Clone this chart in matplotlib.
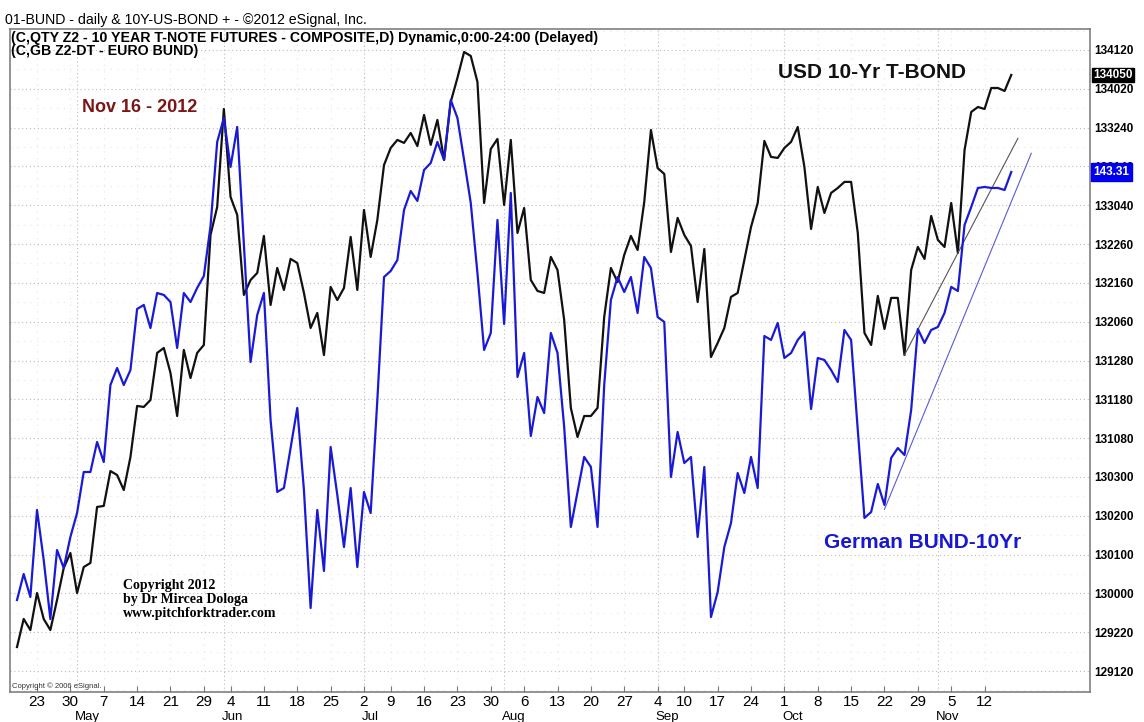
import matplotlib
matplotlib.use('Agg')
import matplotlib.pyplot as plt
import numpy as np
import pandas as pd

plt.rcParams['font.family'] = ['Liberation Sans', 'DejaVu Sans']

# trading days, US holidays left out
holidays = ['2012-05-28', '2012-07-04', '2012-09-03']
dates = pd.bdate_range('2012-04-18', '2012-11-16')
dates = dates[~dates.isin(pd.to_datetime(holidays))]

# 10 year T-note futures (decimal price)
tnote = [129.568, 129.794, 129.705, 130.003, 129.794, 129.705, 129.947, 130.204, 130.325, 130.003,
         130.212, 130.245, 130.696, 130.704, 130.985, 130.953, 130.832, 131.098, 131.509, 131.501,
         131.557, 131.936, 131.976, 131.775, 131.428, 131.960, 131.734, 131.936, 132.000, 132.886,
         133.111, 133.900, 133.192, 133.047, 132.403, 132.523, 132.580, 132.878, 132.322, 132.620,
         132.443, 132.693, 132.660, 132.419, 132.137, 132.258, 131.919, 132.467, 132.362, 132.459,
         132.870, 132.443, 133.087, 132.709, 133.007, 133.449, 133.586, 133.651, 133.627, 133.707,
         133.602, 133.852, 133.611, 133.812, 133.490, 133.957, 134.150, 134.359, 134.327, 134.118,
         133.143, 133.578, 133.659, 133.127, 133.651, 132.902, 133.103, 132.523, 132.435, 132.419,
         132.709, 132.604, 132.201, 131.493, 131.259, 131.428, 131.428, 131.493, 132.226, 132.620,
         132.507, 132.725, 132.878, 132.765, 133.152, 133.731, 133.425, 133.377, 132.749, 133.023,
         132.886, 132.797, 132.346, 132.773, 131.903, 132.016, 132.137, 132.387, 132.419, 132.685,
         132.950, 133.143, 133.643, 133.514, 133.506, 133.586, 133.635, 133.755, 133.433, 132.934,
         133.272, 133.063, 133.224, 133.264, 133.313, 133.313, 132.902, 132.097, 132.000, 132.395,
         132.129, 132.379, 132.379, 131.919, 132.604, 132.789, 132.693, 133.039, 132.846, 132.789,
         133.143, 132.741, 133.570, 133.876, 133.916, 133.900, 134.069, 134.069, 134.045, 134.174]

# Euro Bund futures
bund = [137.796, 138.131, 137.835, 138.956, 138.312, 137.551, 138.440, 138.209, 138.608, 138.917,
        139.445, 139.445, 139.832, 139.574, 140.566, 140.785, 140.566, 140.759, 141.545, 141.597,
        141.300, 141.751, 141.726, 141.635, 141.043, 141.751, 141.635, 141.816, 141.970, 142.614,
        143.697, 144.006, 143.375, 143.890, 142.370, 140.862, 141.468, 141.751, 140.115, 139.188,
        139.239, 139.754, 140.270, 139.213, 137.693, 138.956, 138.170, 139.767, 139.149, 138.479,
        139.239, 138.221, 139.188, 138.917, 140.373, 141.957, 142.035, 142.176, 142.821, 143.065,
        142.937, 143.336, 143.426, 143.697, 143.465, 144.238, 144.006, 143.465, 142.911, 142.009,
        141.017, 141.236, 142.692, 141.352, 143.040, 140.669, 140.978, 139.909, 140.411, 140.205,
        141.236, 140.978, 140.025, 138.737, 139.188, 139.639, 139.510, 138.737, 140.566, 141.661,
        141.957, 141.764, 141.957, 141.494, 142.215, 142.073, 141.442, 141.378, 139.381, 139.961,
        139.561, 139.639, 138.608, 139.510, 137.577, 137.899, 138.479, 138.788, 139.432, 139.175,
        139.639, 139.239, 141.197, 141.146, 141.365, 140.914, 140.978, 141.146, 141.249, 140.257,
        140.914, 140.888, 140.759, 140.605, 141.275, 141.146, 139.986, 138.853, 138.930, 139.291,
        139.020, 139.626, 139.754, 139.664, 140.244, 141.288, 141.107, 141.275, 141.313, 141.494,
        141.829, 141.777, 142.627, 142.859, 143.104, 143.117, 143.104, 143.104, 143.078, 143.310]

# trend lines drawn on the chart (bar index, price)
tnote_trend_x = [133, 150.0]
tnote_trend_y = [131.919, 133.664]
bund_trend_x = [130, 152.0]
bund_trend_y = [138.965, 143.551]

# right axis, prices in 32nds
ytick_vals = [129.375, 129.6875, 130.0, 130.3125, 130.625, 130.9375, 131.25, 131.5625, 131.875,
              132.1875, 132.5, 132.8125, 133.125, 133.4375, 133.75, 134.0625, 134.375]
ytick_labels = ['129120', '129220', '130000', '130100', '130200', '130300', '131080', '131180',
                '131280', '132060', '132160', '132260', '133040', '133140', '133240', '134020', '134120']
last_tnote_label = '134050'
last_bund_label = '143.31'

x = np.arange(len(dates))
wk = dates.isocalendar().week.values
week_starts = [i for i in range(1, len(dates)) if wk[i] != wk[i - 1]]
month_starts = [i for i in range(1, len(dates)) if dates[i].month != dates[i - 1].month]

fig = plt.figure(figsize=(11.44, 7.22), dpi=100)
ax = fig.add_axes([10 / 1144, 1 - 692 / 722, 1080 / 1144, 663 / 722])
ax2 = ax.twinx()

grid_col = '#bdbdbd'
for m in month_starts:
    ax.axvline(m, color=grid_col, linestyle=(0, (1, 2.5)), linewidth=0.8, zorder=0)
for w in week_starts:
    ax.axvline(w, color='#e4e4e4', linestyle=(0, (1, 5)), linewidth=0.8, zorder=0)
for v in ytick_vals:
    ax.axhline(v, color=grid_col, linestyle=(0, (1, 2.5)), linewidth=0.8, zorder=0)
for v in ytick_vals:
    ax.axhline(v + 0.15625, color='#e6e6e6', linestyle=(0, (1, 5)), linewidth=0.8, zorder=0)
ax.axhline(ytick_vals[0] - 0.15625, color='#e6e6e6', linestyle=(0, (1, 5)), linewidth=0.8, zorder=0)

ax.plot(x, tnote, color='#111111', linewidth=1.6, zorder=3)
ax.plot(tnote_trend_x, tnote_trend_y, color='#555555', linewidth=0.8, zorder=3)

ax.set_xlim(-1.05, 160.8)
ax.set_ylim(129.206, 134.544)

# twinx moved the ticks to the left, put them back on the right
ax.yaxis.tick_right()
ax.set_yticks(ytick_vals)
ax.set_yticklabels(ytick_labels, fontsize=8.5, fontweight='bold')
ax.tick_params(axis='y', which='both', length=0, pad=3, left=False, right=True,
               labelleft=False, labelright=True)

ax.set_xticks(week_starts)
ax.set_xticklabels([str(dates[i].day) for i in week_starts], fontsize=11)
ax.tick_params(axis='x', direction='in', length=4, pad=2, color='#777777')
for m in month_starts:
    ax.text(m - 0.3, -(711 - 692) / 663, dates[m].strftime('%b'), transform=ax.get_xaxis_transform(),
            ha='left', va='top', fontsize=9.5, clip_on=False)

for s in ax.spines.values():
    s.set_color('#808080')
    s.set_linewidth(1.2)

ax.annotate(last_tnote_label, xy=(1.0, tnote[-1]), xycoords=('axes fraction', 'data'),
            xytext=(2.5, 0), textcoords='offset points', ha='left', va='center',
            color='white', fontsize=8.5, fontweight='bold', zorder=10, annotation_clip=False,
            bbox=dict(boxstyle='square,pad=0.12', fc='black', ec='black'))

ax2.set_ylim(136.611, 145.152)
ax2.set_yticks([])
for s in ax2.spines.values():
    s.set_visible(False)
ax2.plot(x, bund, color='#1a1ad6', linewidth=1.6, zorder=3)
ax2.plot(bund_trend_x, bund_trend_y, color='#5a5ad8', linewidth=0.8, zorder=3)
ax2.annotate(last_bund_label, xy=(1.0, bund[-1]), xycoords=('axes fraction', 'data'),
             xytext=(2.5, 0), textcoords='offset points', ha='left', va='center',
             color='white', fontsize=8.5, fontweight='bold', zorder=10, annotation_clip=False,
             bbox=dict(boxstyle='square,pad=0.25', fc='#0000ee', ec='#0000ee'))

# header and notes
fig.text(5 / 1144, 1 - 20 / 722, '01-BUND - daily & 10Y-US-BOND + - \u00a92012 eSignal, Inc.',
         fontsize=10.2, ha='left', va='center')
fig.text(11 / 1144, 1 - 38 / 722,
         '(C,QTY Z2 - 10 YEAR T-NOTE FUTURES - COMPOSITE,D) Dynamic,0:00-24:00 (Delayed)',
         fontsize=10.2, fontweight='bold', ha='left', va='center')
fig.text(11 / 1144, 1 - 51 / 722, '(C,GB Z2-DT - EURO BUND)',
         fontsize=10.2, fontweight='bold', ha='left', va='center')

fig.text(140 / 1144, 1 - 107 / 722, 'Nov 16 - 2012', color='#7a1616', fontsize=13,
         fontweight='bold', ha='center', va='center')
fig.text(872 / 1144, 1 - 73 / 722, 'USD 10-Yr T-BOND', color='#111111', fontsize=15,
         fontweight='bold', ha='center', va='center')
fig.text(923 / 1144, 1 - 542 / 722, 'German BUND-10Yr', color='#1818d0', fontsize=15,
         fontweight='bold', ha='center', va='center')
fig.text(123 / 1144, 1 - 579 / 722, 'Copyright 2012\nby Dr Mircea Dologa\nwww.pitchforktrader.com',
         family='Liberation Serif', fontsize=10, fontweight='bold', ha='left', va='top',
         linespacing=1.12)
fig.text(12 / 1144, 1 - 686 / 722, 'Copyright \u00a9 2006 eSignal.', fontsize=5.5,
         ha='left', va='center', color='#333333')

fig.savefig('out.png', dpi=100)
